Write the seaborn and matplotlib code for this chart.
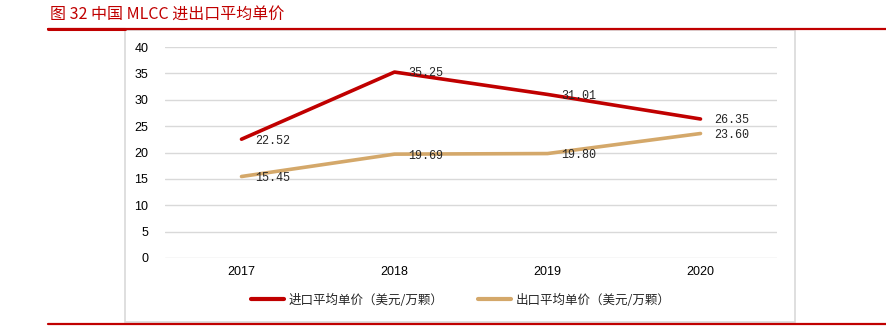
import matplotlib
matplotlib.use("Agg")
import matplotlib.pyplot as plt
from matplotlib.lines import Line2D
from matplotlib.patches import Rectangle
import seaborn as sns
import pandas as pd

years = ["2017", "2018", "2019", "2020"]
import_price = [22.52, 35.25, 31.01, 26.35]
export_price = [15.45, 19.69, 19.80, 23.60]
series_names = ["进口平均单价（美元/万颗）", "出口平均单价（美元/万颗）"]
title = "图 32 中国 MLCC 进出口平均单价"
yticks = [0, 5, 10, 15, 20, 25, 30, 35, 40]

sns.set_theme(style="white")
plt.rcParams['font.family'] = ['Liberation Sans', 'Noto Sans CJK SC', 'DejaVu Sans']

W, H = 887, 334
fig = plt.figure(figsize=(W / 100, H / 100), dpi=100)

def fx(px):
    return px / W

def fy(py):
    return 1 - py / H

# outer frame box
fig.patches.append(Rectangle((fx(125), fy(322)), fx(795) - fx(125), fy(30) - fy(322),
                             transform=fig.transFigure, fill=False, edgecolor="#D9D9D9", lw=1.2))
# red rules
fig.add_artist(Line2D([fx(48), 1], [fy(29), fy(29)], color="#C00000", lw=1.6, transform=fig.transFigure))
fig.add_artist(Line2D([fx(48), fx(125)], [fy(29), fy(29)], color="#C00000", lw=2.2, transform=fig.transFigure))
fig.add_artist(Line2D([fx(48), 1], [fy(324), fy(324)], color="#C00000", lw=1.6, transform=fig.transFigure))

fig.text(fx(50), fy(14), title, color="#C00000", fontsize=11.5,
         family=['Noto Sans CJK SC', 'DejaVu Sans'], va="center", ha="left")

ax = fig.add_axes([fx(165), fy(258), fx(777) - fx(165), fy(47) - fy(258)])

df = pd.DataFrame({
    "year": years * 2,
    "value": import_price + export_price,
    "series": [series_names[0]] * len(years) + [series_names[1]] * len(years),
})
colors = {series_names[0]: "#C00000", series_names[1]: "#D4A86A"}
sns.lineplot(data=df, x="year", y="value", hue="series", palette=colors,
             linewidth=2.6, ax=ax, legend=False, sort=False)
for ln in ax.lines:
    ln.set_solid_capstyle("round")

ax.set_xlim(-0.5, 3.5)
ax.set_ylim(0, 40)
ax.set_yticks(yticks)
ax.yaxis.grid(True, color="#D9D9D9", lw=1)
ax.set_axisbelow(True)
for s in ax.spines.values():
    s.set_visible(False)
ax.tick_params(axis="both", length=0, labelsize=9, colors="#000000")
ax.tick_params(axis="x", pad=6)
ax.tick_params(axis="y", pad=12)
ax.set_xlabel("")
ax.set_ylabel("")

lab_font = ['Liberation Mono', 'DejaVu Sans Mono']
for series in (import_price, export_price):
    for i, v in enumerate(series):
        ax.annotate(f"{v:.2f}", (i, v), xytext=(10, -1), textcoords="offset points",
                    ha="left", va="center", fontsize=8.5, family=lab_font)

handles = [Line2D([], [], color=colors[n], lw=3, solid_capstyle="round") for n in series_names]
fig.legend(handles, series_names, loc="center", bbox_to_anchor=(fx(461), fy(300)),
           ncol=2, frameon=False, prop={"family": ['Noto Sans CJK SC', 'DejaVu Sans'], "size": 9},
           handlelength=2.6, handletextpad=0.4, columnspacing=2.8)

fig.savefig("out.png", dpi=100)
